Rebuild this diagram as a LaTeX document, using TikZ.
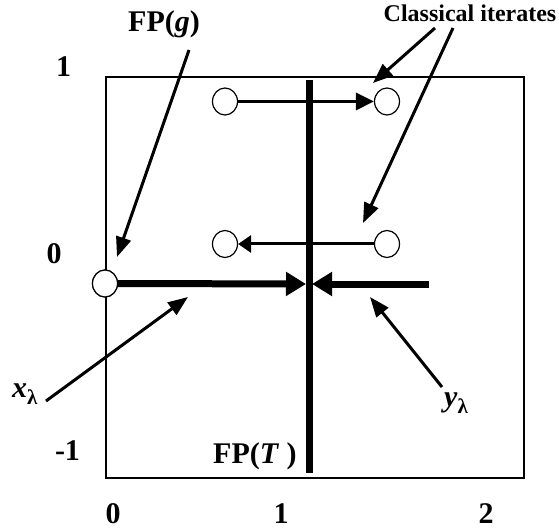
\documentclass[tikz,border=0pt]{standalone}
\usepackage{fontspec}
\setmainfont{Liberation Serif}
\usetikzlibrary{arrows.meta,shapes.geometric}
\newcommand{\lamsub}{\raisebox{-7pt}{\fontsize{21}{21}\selectfont\bfseries λ}}
\tikzset{
  dot/.style={ellipse,draw,line width=1.2pt,fill=white,minimum width=25pt,minimum height=27pt,inner sep=0pt},
  lbl/.style={font=\fontsize{30}{30}\selectfont\bfseries,inner sep=0pt,anchor=base},
  lblsmall/.style={font=\fontsize{24}{24}\selectfont\bfseries,inner sep=0pt,anchor=base},
  pointer/.style={line width=3pt,-{Triangle[length=20pt,width=15pt]}},
  iter/.style={line width=3pt},
  thickline/.style={line width=7pt},
  mainhead/.style={line width=7pt,-{Triangle[length=20pt,width=23pt]}}
}
\begin{document}
\begin{tikzpicture}[x=1pt,y=-1pt]
\useasboundingbox (0,0) rectangle (559,529);
% box
\draw[line width=1.3pt] (106,77) rectangle (524,478);
% vertical FP(T) line
\coordinate (vt) at (309,80);
\coordinate (vb) at (309,473);
\draw[thickline] (vt) -- (vb);
% circles
\node[dot] (ul) at (225,101.5) {};
\node[dot] (ur) at (387,101.5) {};
\node[dot] (ll) at (225,244) {};
\node[dot] (lr) at (387,244) {};
\node[dot] (bl) at (105,283.5) {};
% horizontal main line
\coordinate (cl) at (306,284);
\coordinate (cr) at (312,284);
\coordinate (hr) at (429,284);
\draw[mainhead] (bl.east) -- (cl);
\draw[mainhead] (hr) -- (cr);
\node[dot] at (bl) {};
% iterates
\draw[iter,-{Triangle[length=18pt,width=17pt]}] (ul) -- (ur);
\draw[iter,-{Triangle[length=13pt,width=17pt]}] (lr) -- (ll);
% labels
\node[lbl] (fpg) at (164,32) {FP(\textit{g})};
\node[lblsmall] (ci) at (470,22) {Classical iterates};
\node[lbl] (l1) at (63.5,77) {1};
\node[lbl] (l0) at (54,263) {0};
\node[lbl] (lm1) at (67.5,460) {-1};
\node[lbl] (b0) at (113,523) {0};
\node[lbl] (b1) at (281,523) {1};
\node[lbl] (b2) at (486,523) {2};
\node[lbl,anchor=base west] (xl) at (12,397) {\textit{x}\lamsub};
\node[lbl,anchor=base west] (yl) at (444,406) {\textit{y}\lamsub};
\node[lbl,anchor=base west] (fpt) at (213,463) {FP(\textit{T} )};
% pointer arrows
\coordinate (fpgs) at (189,50);
\coordinate (fpgt) at (117,257);
\draw[pointer] (fpgs) -- (fpgt);
\coordinate (c1s) at (435,28);
\coordinate (c1t) at (373,83);
\draw[pointer] (c1s) -- (c1t);
\coordinate (c2s) at (453,28);
\coordinate (c2t) at (363,223);
\draw[pointer] (c2s) -- (c2t);
\coordinate (xs) at (46,401);
\coordinate (xt) at (188,297);
\draw[pointer] (xs) -- (xt);
\coordinate (ys) at (442,387);
\coordinate (yt) at (370,297);
\draw[pointer] (ys) -- (yt);
\end{tikzpicture}
\end{document}
